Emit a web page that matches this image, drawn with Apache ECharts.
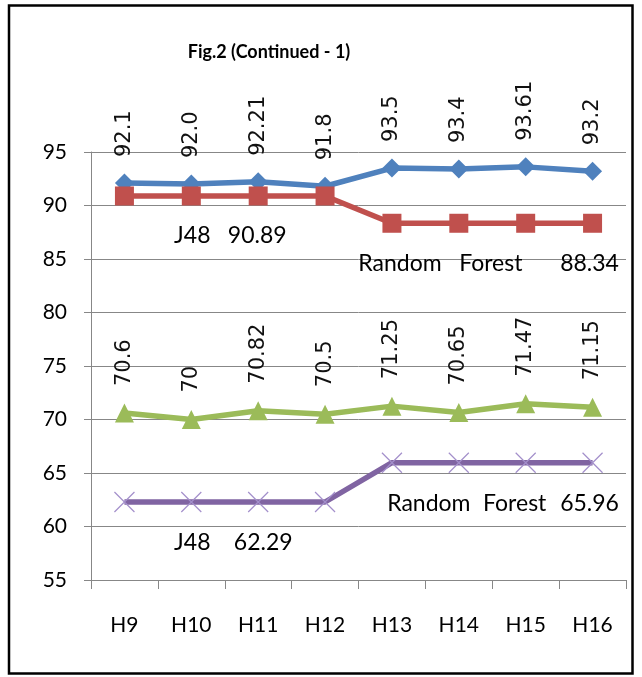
<!DOCTYPE html>
<html>
<head>
<meta charset="utf-8">
<script src="https://cdn.jsdelivr.net/npm/echarts@6/dist/echarts.min.js"></script>
<style>
html,body{margin:0;padding:0;background:#fff;}
#main{width:642px;height:677px;}
</style>
</head>
<body>
<div id="main"></div>
<script>
// ---- data ----
var categories = ['H9','H10','H11','H12','H13','H14','H15','H16'];
var blueValues   = [92.1, 92.0, 92.21, 91.8, 93.5, 93.4, 93.61, 93.2];
var blueLabels   = ['92.1','92.0','92.21','91.8','93.5','93.4','93.61','93.2'];
var redValues    = [90.89, 90.89, 90.89, 90.89, 88.34, 88.34, 88.34, 88.34];
var redLabels    = ['', 'J48', '90.89', '', 'Random', 'Forest', '', '88.34'];
var greenValues  = [70.6, 70, 70.82, 70.5, 71.25, 70.65, 71.47, 71.15];
var greenLabels  = ['70.6','70','70.82','70.5','71.25','70.65','71.47','71.15'];
var purpleValues = [62.29, 62.29, 62.29, 62.29, 65.96, 65.96, 65.96, 65.96];
var purpleLabels = ['', 'J48', '62.29', '', '', 'Random', 'Forest', '65.96'];
var yTicks = {min: 55, max: 95, interval: 5};
var titleText = 'Fig.2 (Continued - 1)';

// ---- label placement (styling, not data) ----
var redOffsetX    = [0, 1, -1, 0, 8, 32, 0, -3];
var purpleOffsetX = [0, 1, 5, 0, 0, -30, -11, -3];

var FONT = 'Lato, "Open Sans", sans-serif';
var ROT_FONT = '"DejaVu Sans", Verdana, sans-serif';

function rotatedSeriesData(values, labels, dist) {
  return values.map(function (v, i) {
    return {
      value: v,
      label: {
        show: true, formatter: labels[i], position: 'top', distance: dist,
        rotate: 90, align: 'left', verticalAlign: 'middle',
        color: '#111', fontFamily: ROT_FONT, fontSize: 21
      }
    };
  });
}
function flatSeriesData(values, labels, offsX, dy) {
  return values.map(function (v, i) {
    return {
      value: v,
      label: {
        show: labels[i] !== '', formatter: labels[i], position: 'inside',
        offset: [offsX[i], dy], align: 'center', verticalAlign: 'middle',
        color: '#000', fontFamily: FONT, fontSize: 23
      }
    };
  });
}

var chart = echarts.init(document.getElementById('main'), null, {renderer: 'canvas'});
var option = {
  backgroundColor: '#fff',
  animation: false,
  title: {
    text: titleText, left: 264, top: 38, textAlign: 'center',
    textStyle: {fontFamily: FONT, fontWeight: 'bold', fontSize: 18, color: '#000'}
  },
  grid: {left: 91, right: 16, top: 152, bottom: 97, containLabel: false},
  xAxis: {
    type: 'category', data: categories, boundaryGap: true,
    axisLine: {show: true, lineStyle: {color: '#878787', width: 1}},
    axisTick: {show: true, length: 9, lineStyle: {color: '#878787'}},
    axisLabel: {margin: 35, color: '#000', fontFamily: FONT, fontSize: 21},
    splitLine: {show: false}
  },
  yAxis: {
    type: 'value', min: yTicks.min, max: yTicks.max, interval: yTicks.interval,
    axisLine: {show: true, lineStyle: {color: '#878787', width: 1}},
    axisTick: {show: true, length: 7, lineStyle: {color: '#878787'}},
    axisLabel: {margin: 24, color: '#000', fontFamily: FONT, fontSize: 21},
    splitLine: {show: true, lineStyle: {color: '#878787', width: 1}}
  },
  graphic: [{
    type: 'rect', silent: true,
    shape: {x: 9, y: 5.5, width: 623.5, height: 668},
    style: {fill: 'none', stroke: '#000', lineWidth: 2.5}
  }],
  series: [
    {
      name: 'blue', type: 'line', data: rotatedSeriesData(blueValues, blueLabels, 16.5),
      symbol: 'diamond', symbolSize: 19,
      lineStyle: {color: '#4F81BD', width: 5.5},
      itemStyle: {color: '#4F81BD'}, z: 2
    },
    {
      name: 'red', type: 'line', data: flatSeriesData(redValues, redLabels, redOffsetX, 40),
      symbol: 'rect', symbolSize: 19,
      lineStyle: {color: '#C0504D', width: 5.5},
      itemStyle: {color: '#C0504D'}, z: 3
    },
    {
      name: 'green', type: 'line', data: rotatedSeriesData(greenValues, greenLabels, 17.5),
      symbol: 'triangle', symbolSize: 19,
      lineStyle: {color: '#9BBB59', width: 5.5},
      itemStyle: {color: '#9BBB59'}, z: 2
    },
    {
      name: 'purple', type: 'line', data: flatSeriesData(purpleValues, purpleLabels, purpleOffsetX, 41),
      symbol: 'path://M0,0L20,20M20,0L0,20', symbolSize: 20, symbolKeepAspect: true,
      lineStyle: {color: '#8064A2', width: 5.5},
      itemStyle: {color: 'none', borderColor: '#A38FCB', borderWidth: 1.2}, z: 2
    }
  ]
};
chart.setOption(option);
</script>
</body>
</html>
